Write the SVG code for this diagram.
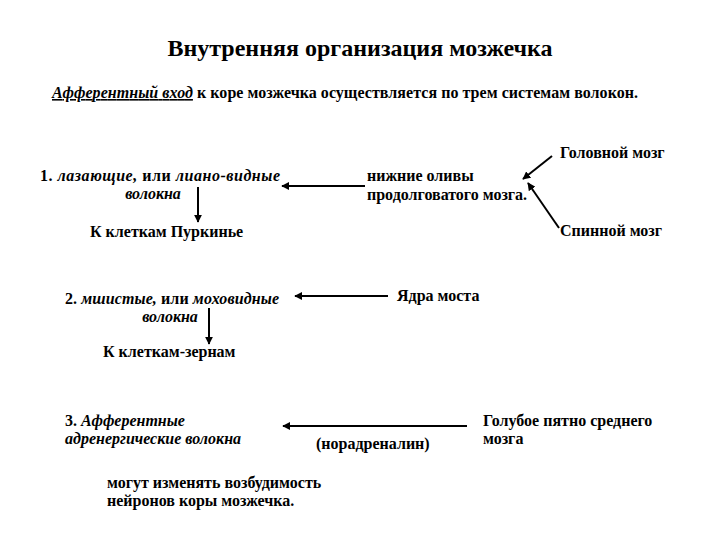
<svg xmlns="http://www.w3.org/2000/svg" width="720" height="540" viewBox="0 0 720 540">
<style>
text{font-family:"Liberation Serif","Times New Roman",serif;font-weight:bold;fill:#000;font-size:16px}
.t{font-size:24px}
.i{font-style:italic}
.c{text-anchor:middle}
.ln{stroke:#000;stroke-width:2;fill:none;marker-end:url(#ah)}
</style>
<defs>
<marker id="ah" viewBox="0 0 10 10" refX="9" refY="5" markerWidth="4" markerHeight="4" orient="auto" markerUnits="strokeWidth">
<path d="M0,0 L10,5 L0,10 Z" fill="#000"/>
</marker>
</defs>
<rect width="720" height="540" fill="#fff"/>
<g id="title"><text class="t c" x="360" y="56">Внутренняя организация мозжечка</text></g>
<g id="intro"><text x="52" y="98" textLength="586"><tspan class="i" text-decoration="underline">Афферентный вход</tspan> к коре мозжечка осуществляется по трем системам волокон.</text></g>

<g id="n1"><text x="40" y="181" textLength="240">1. <tspan class="i">лазающие,</tspan> или <tspan class="i">лиано-видные</tspan></text><text class="i c" x="153" y="199">волокна</text></g>
<g id="olives"><text x="367" y="181">нижние оливы</text><text x="367" y="200">продолговатого мозга.</text></g>
<g id="brain"><text x="560" y="158">Головной мозг</text></g>
<g id="spinal"><text x="560" y="236">Спинной мозг</text></g>
<g id="purkinje"><text x="90" y="237">К клеткам Пуркинье</text></g>

<g id="n2"><text x="65" y="304" textLength="214">2. <tspan class="i">мшистые,</tspan> или <tspan class="i">моховидные</tspan></text><text class="i c" x="170" y="322">волокна</text></g>
<g id="pons"><text x="397" y="301">Ядра моста</text></g>
<g id="granule"><text x="103" y="357">К клеткам-зернам</text></g>

<g id="n3"><text x="65" y="426">3. <tspan class="i">Афферентные</tspan></text><text class="i" x="65" y="444">адренергические волокна</text></g>
<g id="locus"><text x="483" y="426">Голубое пятно среднего</text><text x="483" y="444">мозга</text></g>
<g id="norad"><text x="316" y="449">(норадреналин)</text></g>
<g id="effect"><text x="107" y="488">могут изменять возбудимость</text><text x="107" y="506">нейронов коры мозжечка.</text></g>

<g id="connectors">
<line class="ln" x1="365" y1="186" x2="282" y2="186"/>
<line class="ln" x1="198" y1="187" x2="198" y2="222"/>
<line class="ln" x1="552" y1="156" x2="523" y2="179"/>
<line class="ln" x1="559" y1="228" x2="528" y2="183"/>
<line class="ln" x1="388" y1="296" x2="295" y2="296"/>
<line class="ln" x1="209" y1="308" x2="209" y2="344"/>
<line class="ln" x1="467" y1="426" x2="283" y2="426"/>
</g>
</svg>
